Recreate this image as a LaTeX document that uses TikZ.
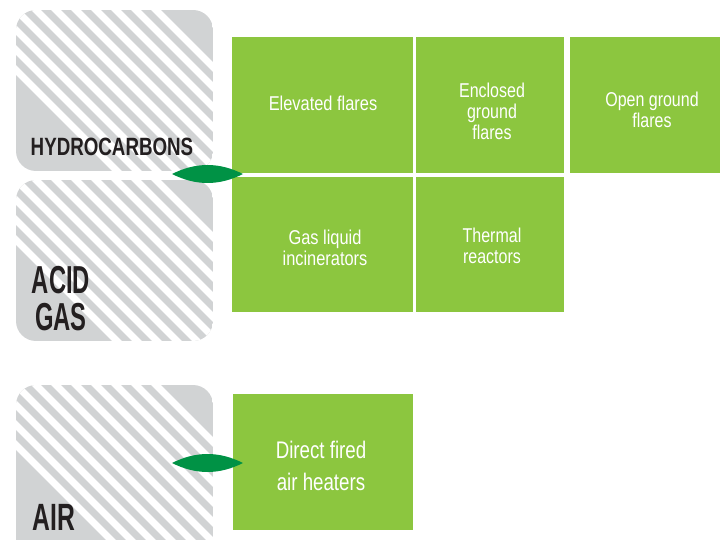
\documentclass[tikz,border=0pt]{standalone}
\usepackage{fontspec}
\setmainfont{Liberation Sans}
\usepackage{graphicx}
\definecolor{lgreen}{HTML}{8CC63F}
\definecolor{dgreen}{HTML}{009245}
\definecolor{lgray}{HTML}{D1D3D4}
\definecolor{ink}{HTML}{231F20}
\newcommand\gtxt[2]{\scalebox{#1}[1]{\begin{tabular}{@{}c@{}}#2\end{tabular}}}
\newcommand\graybox[5]{% name, x0, y0, width, height
  \begin{scope}[shift={(#2,#3)}]
    \begin{scope}
      \clip[rounded corners=20pt] (0,0) rectangle (#4,#5);
      \fill[lgray] (0,0) rectangle (#4,#5);
      \foreach \sv in {60,40,20,0,-20,-40,-60,-80,-100,-120,-140}
        \draw[white, line width=7pt] (-80,\sv-80) -- (340,\sv+340);
    \end{scope}
    \coordinate (#1) at (0,0);
  \end{scope}}
\tikzset{
  gbox/.style={fill=lgreen, draw=none},
  gtext/.style={text=white, inner sep=0pt, font=\fontsize{20}{21}\selectfont},
  btext/.style={text=ink, inner sep=0pt, anchor=base},
  leaf/.style={fill=dgreen, draw=none}
}
\begin{document}
\begin{tikzpicture}[x=1pt,y=-1pt]
\useasboundingbox (0,0) rectangle (720,540);
% gray source boxes
\graybox{g1}{16}{10}{197}{161}
\graybox{g2}{16}{180}{197}{161}
\graybox{g3}{16}{385}{197}{180}
% labels
\node[btext, font=\bfseries\fontsize{25}{25}\selectfont] (l1) at (112,156) {\scalebox{0.75}[1]{HYDROCARBONS}};
\node[btext, font=\bfseries\fontsize{39}{32}\selectfont] (l2) at (61,330) {\scalebox{0.61}[1]{\begin{tabular}[b]{@{}c@{}}ACID\\GAS\end{tabular}}};
\node[btext, font=\bfseries\fontsize{38}{38}\selectfont] (l3) at (54,530) {\scalebox{0.65}[1]{AIR}};
% green boxes
\fill[gbox] (232,37) rectangle (413,173) coordinate (e1);
\fill[gbox] (416,37) rectangle (564,173) coordinate (e2);
\fill[gbox] (570,37) rectangle (734,173) coordinate (e3);
\fill[gbox] (232,177) rectangle (413,312) coordinate (e4);
\fill[gbox] (416,177) rectangle (564,312) coordinate (e5);
\fill[gbox] (233,394) rectangle (413,530) coordinate (e6);
% green box texts
\node[gtext] (t1) at (323,106.5) {\gtxt{0.82}{Elevated flares}};
\node[gtext] (t2) at (492,114) {\gtxt{0.8}{Enclosed\\ground\\flares}};
\node[gtext] (t3) at (652,113) {\gtxt{0.8}{Open ground\\flares}};
\node[gtext] (t4) at (325,251) {\gtxt{0.82}{Gas liquid\\incinerators}};
\node[gtext] (t5) at (492,249) {\gtxt{0.8}{Thermal\\reactors}};
\node[gtext, font=\fontsize{24}{32}\selectfont] (t6) at (321,468) {\gtxt{0.78}{Direct fired\\air heaters}};
% leaves
\fill[leaf] (172,174) .. controls (196,162) and (219,162) .. (243,174) .. controls (219,186) and (196,186) .. (172,174);
\fill[leaf] (172,463) .. controls (196,451) and (219,451) .. (243,463) .. controls (219,475) and (196,475) .. (172,463);
\end{tikzpicture}
\end{document}
